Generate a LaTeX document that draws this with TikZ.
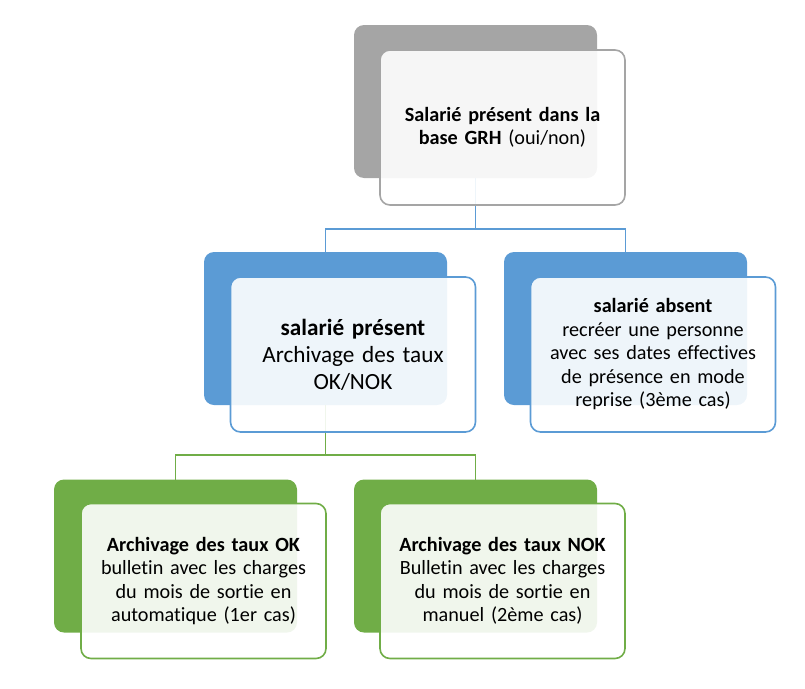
\documentclass[tikz,border=0pt]{standalone}
\usepackage{fontspec}
\setmainfont{Carlito}[Ligatures={NoCommon}]
\definecolor{cgray}{HTML}{A5A5A5}
\definecolor{cblue}{HTML}{5B9BD5}
\definecolor{cgreen}{HTML}{70AD47}
\begin{document}
\begin{tikzpicture}[x=1pt,y=-1pt,
 back/.style={rectangle,rounded corners=10pt,minimum width=243pt,minimum height=153pt,inner sep=0pt,outer sep=0pt,fill=#1},
 front/.style={rectangle,rounded corners=10pt,minimum width=245pt,minimum height=155pt,inner sep=0pt,outer sep=0pt,draw=#1,line width=1.6pt,fill=white,fill opacity=0.9,draw opacity=1},
 txt/.style={align=center,text width=235pt,inner sep=0pt,font=\fontsize{20.2}{23.5}\selectfont},
 txtbig/.style={align=center,text width=235pt,inner sep=0pt,font=\fontsize{23.2}{27}\selectfont},
 link/.style={draw=#1,line width=1.8pt}]
\useasboundingbox (0,0) rectangle (805,688);
% back boxes
\node[back=cgray] (tb) at (475.5,101.5) {};
\node[back=cblue] (mlb) at (325.5,328.5) {};
\node[back=cblue] (mrb) at (625.5,328.5) {};
\node[back=cgreen] (blb) at (175.5,556) {};
\node[back=cgreen] (brb) at (475.5,556) {};
% connectors
\coordinate (bj) at (475.5,229);
\coordinate (gj) at (325.5,455);
\draw[link=cblue] (tb.south) -- (bj);
\draw[link=cblue] (bj) -| (mlb.north);
\draw[link=cblue] (bj) -| (mrb.north);
\draw[link=cgreen] (mlb.south) -- (gj);
\draw[link=cgreen] (gj) -| (blb.north);
\draw[link=cgreen] (gj) -| (brb.north);
% front boxes
\node[front=cgray] (tf) at (502.5,127.5) {};
\node[front=cblue] (mlf) at (353,354.5) {};
\node[front=cblue] (mrf) at (653,354.5) {};
\node[front=cgreen] (blf) at (203.5,581) {};
\node[front=cgreen] (brf) at (502.5,581) {};
% texts
\node[txt] (tt) at (tf.center) {\textbf{Salarié présent dans la}\\\textbf{base GRH} (oui/non)};
\node[txtbig] (mlt) at (mlf.center) {\textbf{salarié présent}\\Archivage des taux\\OK/NOK};
\node[txt] (mrt) at (mrf.center) {\textbf{salarié absent}\\recréer une personne\\avec ses dates effectives\\de présence en mode\\reprise (3ème cas)};
\node[txt] (blt) at (blf.center) {\textbf{Archivage des taux OK}\\bulletin avec les charges\\du mois de sortie en\\automatique (1er cas)};
\node[txt] (brt) at (brf.center) {\textbf{Archivage des taux NOK}\\Bulletin avec les charges\\du mois de sortie en\\manuel (2ème cas)};
\end{tikzpicture}
\end{document}
